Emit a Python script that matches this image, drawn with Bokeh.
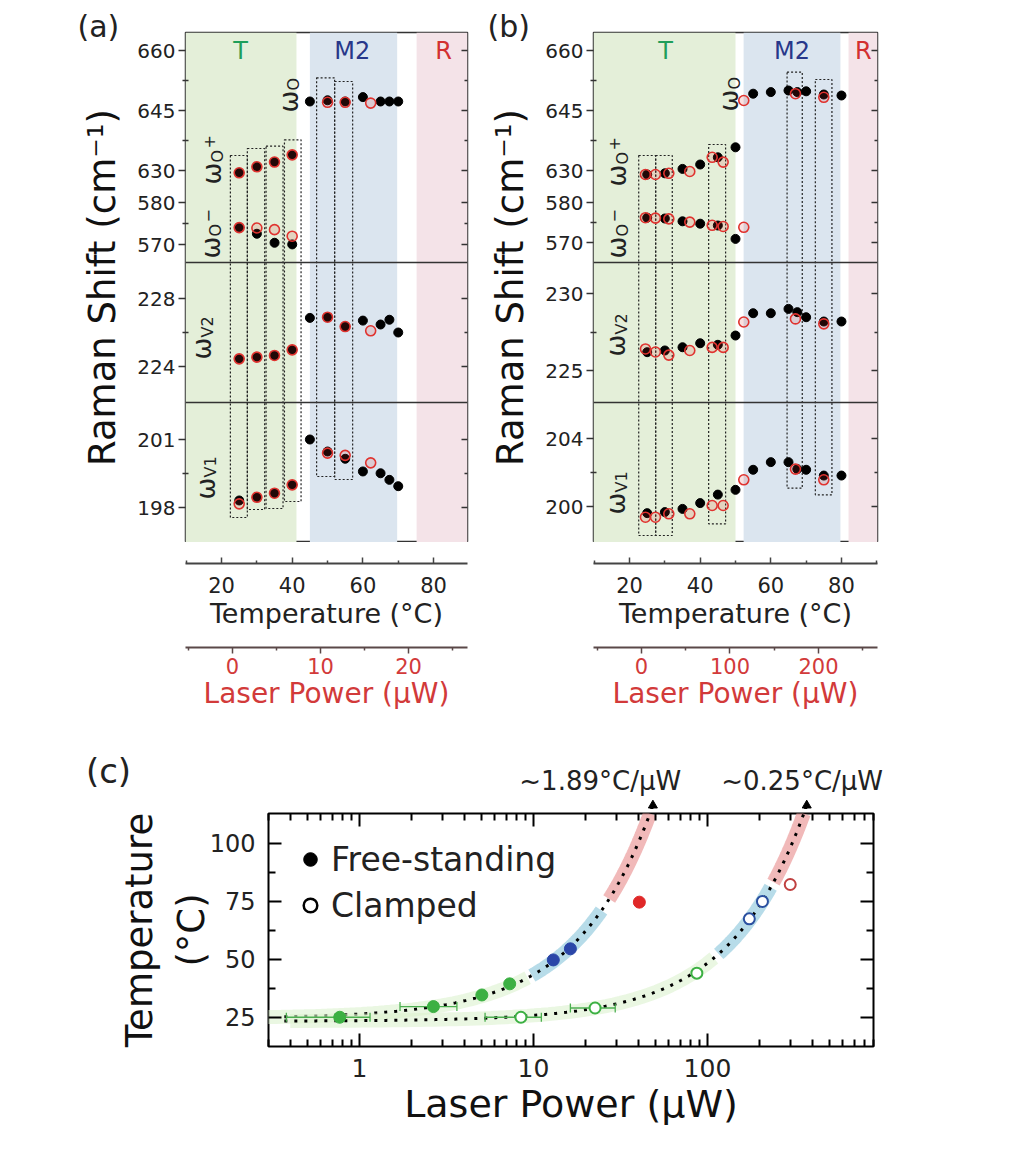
import math
import json
import numpy as np
from bokeh.plotting import figure
from bokeh.models import (Range1d, LinearAxis, LogAxis, FixedTicker, CustomJSTickFormatter,
                          BasicTickFormatter, Span, BoxAnnotation, Legend, LegendItem,
                          Title)
from bokeh.layouts import column, row
from bokeh.embed import file_html
from bokeh.resources import INLINE
from bokeh.core.properties import value

FONT = "DejaVu Sans"

# ============================ DATA ============================
# ---- Panel (a): temperature series (filled black) ----
A_T_OPM = [25, 30, 35, 40]
A_O_PLUS = [629.3, 630.8, 632.0, 633.8]
A_O_MINUS = [574.0, 572.5, 570.3, 569.9]
A_T_O = [45, 50, 55, 60, 65, 67.5, 70]
A_O = [647.2, 647.5, 647.2, 648.3, 647.2, 647.2, 647.2]
A_T_V = [25, 30, 35, 40, 45, 50, 55, 60, 65, 67.5, 70]
A_V2 = [224.45, 224.55, 224.65, 224.98, 226.86, 226.9, 226.35, 226.7, 226.47, 226.75, 226.0]
A_V1 = [198.31, 198.45, 198.63, 199.0, 201.0, 200.47, 200.15, 199.59, 199.51, 199.22, 198.94]
# ---- Panel (a): laser-power series (open red) ----
A_P_OPM = [0.76, 2.77, 4.77, 6.78]
A_O_PLUS_L = [629.3, 630.8, 632.0, 633.8]
A_O_MINUS_L = [574.0, 573.9, 573.5, 571.9]
A_P_O = [10.8, 12.8, 15.7]
A_O_L = [647.0, 647.0, 646.8]
A_P_V = [0.76, 2.77, 4.77, 6.78, 10.8, 12.8, 15.7]
A_V2_L = [224.45, 224.55, 224.65, 224.98, 226.9, 226.35, 226.1]
A_V1_L = [198.16, 198.45, 198.63, 199.0, 200.4, 200.3, 199.97]

# ---- Panel (b): temperature series (filled black) ----
B_T_OPM = [25, 30, 35, 40, 45, 50]
B_O_PLUS = [629.0, 629.3, 630.4, 631.5, 633.3, 635.8]
B_O_MINUS = [576.2, 576.0, 575.3, 574.7, 574.25, 570.9]
B_T_O = [55, 60, 65, 67.5, 70, 75, 80]
B_O = [649.2, 649.6, 650.0, 649.6, 649.8, 649.0, 648.75]
B_T_V = [25, 30, 35, 40, 45, 50, 55, 60, 65, 67.5, 70, 75, 80]
B_V2 = [226.19, 226.3, 226.51, 226.77, 226.67, 227.27, 228.72, 228.72, 229.0, 228.79, 228.46, 228.18, 228.18]
B_V1 = [199.61, 199.67, 199.86, 200.2, 200.7, 200.98, 202.16, 202.61, 202.61, 202.2, 202.16, 201.82, 201.82]
# ---- Panel (b): laser-power series (open red) ----
B_P_OP = [4.5, 15.8, 30.9, 54.6, 79.9, 92.3]
B_O_PLUS_L = [629.0, 629.0, 629.3, 629.75, 633.3, 632.1]
B_P_OM = [4.5, 15.8, 30.9, 54.6, 79.9, 92.3, 115.6]
B_O_MINUS_L = [576.2, 576.1, 575.9, 575.1, 574.3, 574.0, 573.8]
B_P_O = [115.6, 174, 206]
B_O_L = [647.5, 649.2, 648.3]
B_P_V = [4.5, 15.8, 30.9, 54.6, 79.9, 92.3, 115.6, 174, 206]
B_V2_L = [226.4, 226.2, 226.0, 226.3, 226.5, 226.5, 228.15, 228.35, 228.03]
B_V1_L = [199.37, 199.37, 199.57, 199.57, 200.06, 200.06, 201.57, 202.2, 201.57]

# ---- Panel (c) ----
FS_P = [0.77, 2.66, 5.05, 7.3, 13.0, 16.3, 40.6]
FS_T = [25, 29.6, 34.6, 39.4, 49.7, 54.5, 74.6]
FS_PHASE = ["T", "T", "T", "T", "M2", "M2", "R"]
CL_P = [8.47, 22.6, 86.9, 174, 207, 299]
CL_T = [25, 29, 44, 67.4, 74.9, 82.2]
CL_PHASE = ["T", "T", "T", "M2", "M2", "R"]
# horizontal error bars (power uncertainty)
ERR_T = [25, 29.6, 25, 29]
ERR_LO = [0.38, 1.71, 5.27, 16.3]
ERR_HI = [1.15, 3.63, 11.1, 29.5]
# linear fits  T = T0 + k * P
FIT_K = [1.89, 0.25]
FIT_T0 = [24.5, 23.3]
FIT_LABELS = ["~1.89°C/μW", "~0.25°C/μW"]
FIT_LABEL_P = [24.2, 350.0]
# phase temperature ranges shaded along each fit (free, clamped)
FIT_PHASES = [
    [("T", 24.7, 42.0), ("M2", 43.0, 71.0), ("R", 76.0, 112.8)],
    [("T", 23.4, 50.5), ("M2", 52.3, 81.0), ("R", 83.2, 112.8)],
]

# ============================ STYLE / LAYOUT ============================
RED = "#e0332f"
RED_TXT = "#d23a3a"
BAND_COL = {"T": "#e4efd9", "M2": "#dbe5ef", "R": "#f4e3e8"}
REGION_TXT = {"T": "#1f9e5a", "M2": "#27378a", "R": "#d23030"}
PT_COL = {"T": "#3cb043", "M2": "#2b46a8", "R": "#e02828"}
OPEN_COL = {"T": "#3cb043", "M2": "#2b50a0", "R": "#c04040"}
FIT_BAND = {"T": "#dcf2cf", "M2": "#9fd0e2", "R": "#eca2a2"}
FIT_BAND_ALPHA = {"T": 0.6, "M2": 0.75, "R": 0.75}

TOP = 32      # page y of frame top (a),(b)
H = 510       # frame height (a),(b)
GAP1 = 21     # frame bottom -> temperature axis
TEMP_B = 74   # temperature axis block
GAP2 = 10     # -> laser power axis line
LAS_B = 73    # laser axis block
C_TOP = TOP + H + GAP1 + TEMP_B + GAP2 + LAS_B
C_FRAME_TOP = 813
C_MB_TOP = 4


def blank_fmt():
    return CustomJSTickFormatter(code="return '';")


def axis_strip(cfg, xr, pr, frame_h, mbb, axis):
    f = figure(frame_width=cfg["fw"], frame_height=frame_h, x_range=xr, y_range=Range1d(0, 1),
               x_axis_location=None, y_axis_location=None,
               min_border_left=cfg["mbl"], min_border_right=cfg["mbr"],
               min_border_top=0, min_border_bottom=mbb,
               output_backend="svg", toolbar_location=None)
    f.grid.visible = False
    f.outline_line_color = None
    f.extra_x_ranges = {"power": pr}
    f.add_layout(axis, "below")
    return f


def build_panel(cfg):
    xr = Range1d(*cfg["trange"])
    pr = Range1d(*cfg["prange"])
    p = figure(frame_width=cfg["fw"], frame_height=H,
               x_range=xr, y_range=Range1d(H, 0),
               x_axis_location=None, y_axis_location=None,
               min_border_left=cfg["mbl"], min_border_right=cfg["mbr"],
               min_border_top=TOP, min_border_bottom=0,
               output_backend="svg", toolbar_location=None)
    p.grid.visible = False
    p.outline_line_color = "#333333"
    p.outline_line_width = 1.5

    ranges = {}
    ticks, minors, labels = [], [], {}
    for name, (v1, f1, v2, f2, tv, mv) in cfg["segs"].items():
        s = (f2 - f1) / (v2 - v1)
        ranges[name] = Range1d(start=v1 + (H - f1) / s, end=v1 + (0 - f1) / s)
        for v in tv:
            f = int(round(f1 + (v - v1) * s))
            ticks.append(f)
            labels[str(f)] = str(v)
        for v in mv:
            minors.append(f1 + (v - v1) * s)
    p.extra_y_ranges = ranges
    p.extra_x_ranges = {"power": pr}

    fmt = CustomJSTickFormatter(
        code="const m = " + json.dumps(labels) +
             "; const k = String(Math.round(tick)); return (k in m) ? m[k] : '';")
    yl = LinearAxis(ticker=FixedTicker(ticks=ticks, minor_ticks=minors), formatter=fmt,
                    axis_label="Raman Shift (cm⁻¹)", axis_line_color=None,
                    major_tick_out=7, major_tick_in=0, minor_tick_out=3, minor_tick_in=3,
                    major_tick_line_color="#333333", minor_tick_line_color="#333333",
                    major_tick_line_width=1.3, minor_tick_line_width=1.3,
                    major_label_standoff=3, axis_label_standoff=10,
                    major_label_text_font=FONT, major_label_text_font_size="20px",
                    major_label_text_color="#222222",
                    axis_label_text_font=FONT, axis_label_text_font_size="37px",
                    axis_label_text_font_style="normal", axis_label_text_color="#111111")
    p.add_layout(yl, "left")
    yr = LinearAxis(ticker=FixedTicker(ticks=ticks, minor_ticks=minors), formatter=blank_fmt(),
                    axis_line_color=None, major_tick_in=6, major_tick_out=0,
                    minor_tick_in=3, minor_tick_out=0, major_label_standoff=0,
                    major_label_text_font_size="1px",
                    major_tick_line_color="#333333", minor_tick_line_color="#333333",
                    major_tick_line_width=1.3, minor_tick_line_width=1.3)
    p.add_layout(yr, "right")

    # panel tag "(a)" / "(b)"
    p.add_layout(Title(text=cfg["tag"], align="left", offset=cfg["tag_off"], standoff=-23,
                       text_font=FONT, text_font_size="30px", text_font_style="normal",
                       text_color="#222222"), "above")

    # phase bands
    for ph, lo, hi in cfg["bands"]:
        p.add_layout(BoxAnnotation(left=lo, right=hi, fill_color=BAND_COL[ph], fill_alpha=1.0,
                                   line_color=None, level="underlay"))
    # separators between sub-panels
    for f in cfg["seps"]:
        p.add_layout(Span(location=f, dimension="width", line_color="#333333", line_width=1.4))

    # dotted grouping boxes
    bl, br, bt, bb = cfg["boxes"]
    p.quad(left=bl, right=br, top=bt, bottom=bb, fill_color=None, line_color="#222222",
           line_width=1.2, line_dash="2 2")

    # data: black = temperature axis, red open = laser-power axis
    for xs, ys, rn in cfg["black"]:
        p.scatter(xs, ys, y_range_name=rn, size=9, color="black")
    for xs, ys, rn in cfg["red"]:
        p.scatter(xs, ys, x_range_name="power", y_range_name=rn, size=10,
                  fill_color=RED, fill_alpha=0.15, line_color=RED, line_width=1.6)

    # region labels
    rx, rt = cfg["regions"]
    p.text(x=rx, y=[18] * len(rx), text=rt, text_color=[REGION_TXT[t] for t in rt],
           text_font=value(FONT), text_font_size="24px", text_align="center",
           text_baseline="middle")

    # omega labels (rotated)
    for (tx, fy, sub, sup) in cfg["omegas"]:
        p.text(x=[tx], y=[fy], text=["ω"], angle=math.pi / 2, text_font=value(FONT),
               text_font_size="26px", text_align="center", text_baseline="middle",
               text_color="#222222")
        p.text(x=[tx], y=[fy], text=[sub], angle=math.pi / 2, text_font=value(FONT),
               text_font_size="16px", text_align="left", text_baseline="middle",
               x_offset=5, y_offset=-11, text_color="#222222")
        if sup:
            p.text(x=[tx], y=[fy], text=[sup], angle=math.pi / 2, text_font=value(FONT),
                   text_font_size="16px", text_align="left", text_baseline="middle",
                   x_offset=-3, y_offset=-25, text_color="#222222")

    # temperature axis strip
    tax = LinearAxis(ticker=FixedTicker(ticks=[20, 40, 60, 80], minor_ticks=[10, 30, 50, 70, 90]),
                     axis_label="Temperature (°C)",
                     axis_line_color="#444444", axis_line_width=2,
                     major_tick_in=6, major_tick_out=0, minor_tick_in=3, minor_tick_out=0,
                     major_tick_line_color="#444444", minor_tick_line_color="#444444",
                     major_tick_line_width=1.5, minor_tick_line_width=1.5,
                     major_label_standoff=13, axis_label_standoff=2,
                     major_label_text_font=FONT, major_label_text_font_size="21px",
                     major_label_text_color="#222222",
                     axis_label_text_font=FONT, axis_label_text_font_size="27px",
                     axis_label_text_font_style="normal", axis_label_text_color="#222222")
    ft = axis_strip(cfg, xr, pr, GAP1, TEMP_B, tax)
    lax = LinearAxis(x_range_name="power",
                     ticker=FixedTicker(ticks=cfg["pticks"], minor_ticks=cfg["pminor"]),
                     axis_label="Laser Power (μW)",
                     axis_line_color="#5a4848", axis_line_width=2,
                     major_tick_out=6, major_tick_in=0, minor_tick_out=3, minor_tick_in=0,
                     major_tick_line_color="#5a4848", minor_tick_line_color="#5a4848",
                     major_tick_line_width=1.5, minor_tick_line_width=1.5,
                     major_label_standoff=4, axis_label_standoff=0,
                     major_label_text_font=FONT, major_label_text_font_size="21px",
                     major_label_text_color=RED_TXT,
                     axis_label_text_font=FONT, axis_label_text_font_size="28px",
                     axis_label_text_font_style="normal", axis_label_text_color=RED_TXT)
    fl = axis_strip(cfg, xr, pr, GAP2, LAS_B, lax)
    return column(p, ft, fl)


cfg_a = dict(
    fw=282, mbl=185, mbr=13, trange=(9.8, 89.6), prange=(-5.34, 26.7),
    segs={
        "ohi": (660, 18, 630, 137.5, [660, 645, 630], [652.5, 637.5]),
        "olo": (580, 170.5, 570, 211.5, [580, 570], [575]),
        "v2": (228, 266, 224, 334, [228, 224], [226]),
        "v1": (201, 407, 198, 475, [201, 198], [199.5]),
    },
    seps=[230, 370],
    pticks=[0, 10, 20], pminor=[-5, 5, 15, 25],
    bands=[("T", None, 41.2), ("M2", 45.0, 69.7), ("R", 75.2, None)],
    boxes=([22.5, 27.3, 32.6, 37.8, 46.9, 52.0], [27.3, 32.2, 37.4, 42.5, 52.0, 57.1],
           [123, 116, 113.7, 107.3, 45.3, 49], [485, 477, 476, 469, 444, 447]),
    black=[(A_T_OPM, A_O_PLUS, "ohi"), (A_T_OPM, A_O_MINUS, "olo"), (A_T_O, A_O, "ohi"),
           (A_T_V, A_V2, "v2"), (A_T_V, A_V1, "v1")],
    red=[(A_P_OPM, A_O_PLUS_L, "ohi"), (A_P_OPM, A_O_MINUS_L, "olo"), (A_P_O, A_O_L, "ohi"),
         (A_P_V, A_V2_L, "v2"), (A_P_V, A_V1_L, "v1")],
    regions=([25.4, 57.0, 82.8], ["T", "M2", "R"]),
    omegas=[(38.96, 69, "O", None), (17.37, 141, "O", "+"), (16.89, 215, "O", "−"),
            (14.54, 316, "V2", None), (15.6, 456, "V1", None)],
    tag="(a)", tag_off=-108,
)

cfg_b = dict(
    fw=284, mbl=113, mbr=15, trange=(9.8, 90.2), prange=(-54.2, 266.7),
    segs={
        "ohi": (660, 18, 630, 138, [660, 645, 630], [652.5, 637.5]),
        "olo": (580, 170, 570, 210, [580, 570], [575]),
        "v2": (230, 261, 225, 338, [230, 225], [227.5]),
        "v1": (204, 406, 200, 474, [204, 200], [202]),
    },
    seps=[230, 370],
    pticks=[0, 100, 200], pminor=[-50, 50, 150, 250],
    bands=[("T", None, 50.0), ("M2", 52.3, 79.7), ("R", 82.0, None)],
    boxes=([22.6, 27.4, 42.4, 64.6, 72.6], [27.4, 32.1, 47.2, 68.9, 77.3],
           [123, 123, 112, 39.7, 47], [503, 503, 491.3, 455.7, 462.3]),
    black=[(B_T_OPM, B_O_PLUS, "ohi"), (B_T_OPM, B_O_MINUS, "olo"), (B_T_O, B_O, "ohi"),
           (B_T_V, B_V2, "v2"), (B_T_V, B_V1, "v1")],
    red=[(B_P_OP, B_O_PLUS_L, "ohi"), (B_P_OM, B_O_MINUS_L, "olo"), (B_P_O, B_O_L, "ohi"),
         (B_P_V, B_V2_L, "v2"), (B_P_V, B_V1_L, "v1")],
    regions=([30.2, 66.0, 86.2], ["T", "M2", "R"]),
    omegas=[(48.3, 68, "O", None), (16.5, 143, "O", "+"), (16.5, 215, "O", "−"),
            (16.2, 313, "V2", None), (16.2, 471, "V1", None)],
    tag="(b)", tag_off=-106,
)

col_a = build_panel(cfg_a)
col_b = build_panel(cfg_b)

# ============================ PANEL (c) ============================
C_FW, C_FH, C_MBL, C_MBR = 605, 233, 268, 40
C_XR = (0.3, 900.0)
C_YR = (12.4, 112.8)
pc = figure(frame_width=C_FW, frame_height=C_FH, x_axis_type="log",
            x_range=Range1d(*C_XR), y_range=Range1d(*C_YR),
            min_border_left=C_MBL, min_border_right=C_MBR, min_border_top=C_MB_TOP,
            min_border_bottom=95, output_backend="svg", toolbar_location=None)
pc.grid.visible = False
pc.outline_line_color = "black"
pc.outline_line_width = 2

x_major = [1, 10, 100]
x_minor = [m * 10.0 ** e for e in range(-1, 3) for m in range(2, 10)]
y_major = [25, 50, 75, 100]
y_minor = [37.5, 62.5, 87.5]

xa = pc.xaxis[0]
xa.ticker = FixedTicker(ticks=x_major, minor_ticks=x_minor)
xa.formatter = BasicTickFormatter()
ya = pc.yaxis[0]
ya.ticker = FixedTicker(ticks=y_major, minor_ticks=y_minor)
for ax in (xa, ya):
    ax.axis_line_color = None
    ax.major_tick_in = 13
    ax.major_tick_out = 0
    ax.minor_tick_in = 7
    ax.minor_tick_out = 0
    ax.major_tick_line_width = 2
    ax.minor_tick_line_width = 2
    ax.major_tick_line_color = "black"
    ax.minor_tick_line_color = "black"
    ax.major_label_text_font = FONT
    ax.major_label_text_color = "#222222"
    ax.axis_label_text_font = FONT
    ax.axis_label_text_font_style = "normal"
    ax.axis_label_text_color = "#111111"
xa.major_label_text_font_size = "25px"
xa.major_label_standoff = 12
xa.axis_label = "Laser Power (μW)"
xa.axis_label_text_font_size = "38px"
xa.axis_label_standoff = 2
ya.major_label_text_font_size = "24px"
ya.major_label_standoff = 13
ya.axis_label = "Temperature\n(°C)"
ya.axis_label_text_font_size = "37px"
ya.axis_label_standoff = -6

top = LogAxis(ticker=FixedTicker(ticks=x_major, minor_ticks=x_minor), formatter=blank_fmt(),
              axis_line_color=None, major_tick_in=13, major_tick_out=0, minor_tick_in=7,
              minor_tick_out=0, major_tick_line_width=2, minor_tick_line_width=2,
              major_label_standoff=0, major_label_text_font_size="1px")
pc.add_layout(top, "above")
rgt = LinearAxis(ticker=FixedTicker(ticks=y_major, minor_ticks=y_minor), formatter=blank_fmt(),
                 axis_line_color=None, major_tick_in=13, major_tick_out=0, minor_tick_in=7,
                 minor_tick_out=0, major_tick_line_width=2, minor_tick_line_width=2,
                 major_label_standoff=0, major_label_text_font_size="1px")
pc.add_layout(rgt, "right")

# header strip above (c): same log scale, extended to the page edges
dec_px = C_FW / math.log10(C_XR[1] / C_XR[0])
t_per_px = (C_YR[1] - C_YR[0]) / C_FH
HDR_H = C_FRAME_TOP - C_TOP - C_MB_TOP
hx0 = C_XR[0] / 10 ** (C_MBL / dec_px)
hx1 = C_XR[1] * 10 ** (C_MBR / dec_px)
hy0 = C_YR[1] + C_MB_TOP * t_per_px
hy1 = hy0 + HDR_H * t_per_px
hdr = figure(frame_width=C_MBL + C_FW + C_MBR, frame_height=HDR_H, x_axis_type="log",
             x_range=Range1d(hx0, hx1), y_range=Range1d(hy0, hy1),
             x_axis_location=None, y_axis_location=None, min_border=0,
             min_border_left=0, min_border_right=0, min_border_top=0, min_border_bottom=0,
             output_backend="svg", toolbar_location=None)
hdr.grid.visible = False
hdr.outline_line_color = None

# fits: shaded phase bands + dotted line + arrow head
TIP_T = 116.3
for k, t0, phases, lab, lx in zip(FIT_K, FIT_T0, FIT_PHASES, FIT_LABELS, FIT_LABEL_P):
    for ph, tlo, thi in phases:
        pp = np.geomspace((tlo - t0) / k, (thi - t0) / k, 60)
        pc.line(pp, t0 + k * pp, line_color=FIT_BAND[ph], line_width=14,
                line_alpha=FIT_BAND_ALPHA[ph], line_cap="butt")
    pmax = (C_YR[1] - t0) / k
    pp = np.geomspace(0.37, pmax, 200)
    pc.line(pp, t0 + k * pp, line_color="black", line_width=3, line_dash="3 7")
    ph_ = np.geomspace((hy0 - t0) / k, (TIP_T - t0) / k, 10)
    hdr.line(ph_, t0 + k * ph_, line_color="black", line_width=3, line_dash="3 7")
    hdr.scatter([(TIP_T - t0) / k], [TIP_T], marker="triangle", size=9, color="black")
    hdr.text(x=[lx], y=[127.0], text=[lab], text_font=value(FONT), text_font_size="26px",
             text_align="center", text_baseline="middle", text_color="#222222")

hdr.text(x=[0.0361], y=[130.9], text=["(c)"], text_font=value(FONT), text_font_size="34px",
         text_align="center", text_baseline="middle", text_color="#222222")

# error bars
pc.segment(x0=ERR_LO, y0=ERR_T, x1=ERR_HI, y1=ERR_T, line_color="#4caf50", line_width=1.3)
pc.scatter(ERR_LO + ERR_HI, ERR_T + ERR_T, marker="dash", angle=math.pi / 2, size=9,
           line_color="#4caf50", line_width=1.3)

# data points
pc.scatter(FS_P, FS_T, size=12, color=[PT_COL[ph] for ph in FS_PHASE])
pc.scatter(CL_P, CL_T, size=11, fill_color="white", line_width=2,
           line_color=[OPEN_COL[ph] for ph in CL_PHASE])

# legend (black symbols; proxy renderers hold no visible point)
r_fs = pc.scatter([np.nan], [np.nan], color="black")
r_cl = pc.scatter([np.nan], [np.nan], fill_color="white", line_color="black", line_width=2.5)
leg = Legend(items=[LegendItem(label="Free-standing", renderers=[r_fs]),
                    LegendItem(label="Clamped", renderers=[r_cl])],
             location="top_left", margin=25, padding=13, spacing=4,
             glyph_width=34, glyph_height=42, label_standoff=4,
             label_text_font=FONT, label_text_font_size="33px", label_text_color="#222222",
             border_line_color=None, background_fill_alpha=0)
pc.add_layout(leg)

layout = column(row(col_a, col_b), row(hdr), row(pc))
open("out.html", "w").write(file_html(layout, INLINE))
